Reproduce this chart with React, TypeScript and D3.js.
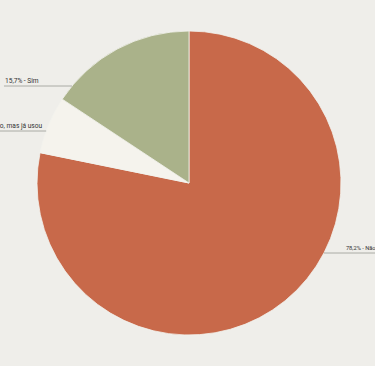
import React from "react";
import * as d3 from "d3";

const categories = ["Não, nunca usou", "Não, mas já usou", "Sim"];
const values = [78.2, 6.1, 15.7];
const valueLabels = ["78,2%", "6,1%", "15,7%"];
const colors = ["#c8694a", "#f5f3ed", "#aab28a"];

const W = 375;
const H = 366;
const cx = 189;
const cy = 183;
const R = 152;
// label layout: y of leader line, horizontal direction, line length
const labelLayout = [
  { y: 253, dir: 1, len: 60, fs: 5.7 },
  { y: 131, dir: -1, len: 70, fs: 6.6 },
  { y: 86, dir: -1, len: 68, fs: 6.6 },
];

export default function App() {
  const pie = d3.pie<number>().sort(null).value((d) => d);
  const arcs = pie(values);
  const arc = d3.arc<d3.PieArcDatum<number>>().innerRadius(0).outerRadius(R);
  return (
    <svg
      width={W}
      height={H}
      style={{ position: "fixed", left: 0, top: 0, background: "#efeeea" }}
      fontFamily="Roboto, sans-serif"
    >
      <rect width={W} height={H} fill="#efeeea" />
      <g transform={`translate(${cx},${cy})`}>
        {arcs.map((a, i) => (
          <path key={i} d={arc(a) || ""} fill={colors[i]} stroke="#f3f2ee" strokeWidth={0.8} />
        ))}
      </g>
      {arcs.map((a, i) => {
        const L = labelLayout[i];
        const dy = L.y - cy;
        const dx = Math.sqrt(Math.max(0, R * R - dy * dy));
        const x0 = cx + L.dir * dx;
        const x1 = x0 + L.dir * L.len;
        const text = `${valueLabels[i]} - ${categories[i]}`;
        return (
          <g key={i}>
            <line x1={x0} x2={x1} y1={L.y} y2={L.y} stroke="#9a9a96" strokeWidth={0.8} />
            <text
              x={L.dir > 0 ? x0 + 22 : i === 1 ? x0 - 4 : x1 + 1}
              y={L.y - 3}
              fontSize={L.fs}
              fill="#333"
              textAnchor={L.dir > 0 ? "start" : i === 1 ? "end" : "start"}
            >
              {text}
            </text>
          </g>
        );
      })}
    </svg>
  );
}
